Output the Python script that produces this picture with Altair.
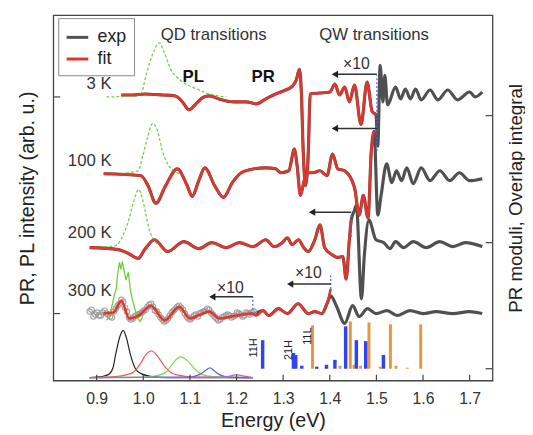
import altair as alt
import pandas as pd

FONT = "Liberation Sans"

# ---------------- data (energies in eV, signals in arb. u. relative to each baseline) ----------------
BASE_3K, BASE_100K, BASE_200K, BASE_300K = 288, 210, 135, 68
BASE_COMP = 3
BASE_BARS = 12

E_3K = [0.953, 0.978, 1.003, 1.041, 1.069, 1.084, 1.098, 1.115, 1.130, 1.143,
        1.162, 1.193, 1.221, 1.242, 1.263, 1.284, 1.305, 1.320, 1.328, 1.335,
        1.339, 1.343, 1.348, 1.354, 1.358, 1.379, 1.400, 1.411, 1.421, 1.432,
        1.442, 1.453, 1.467, 1.480, 1.491, 1.499, 1.503, 1.508, 1.514, 1.518,
        1.524, 1.541, 1.552, 1.562, 1.573, 1.584, 1.596, 1.615, 1.632, 1.653,
        1.674, 1.700, 1.712, 1.727]
S_3K = [2, 2, 3, 2, 1, -5, -13, -6, 0, 1,
        -2, -5, -5, -7, -2, 3, 7, 11, 17, 28,
        5, -55, -90, -55, 3, 4, 5, 13, 2, 10,
        -5, 12, -28, 15, -15, -18, -50, 32, -5, 22,
        -8, 10, -2, 8, -2, 8, -3, 7, -3, 7,
        -3, 5, 0, 5]
FIT_END_3K = 1.499

E_100K = [0.915, 0.995, 1.010, 1.027, 1.048, 1.073, 1.094, 1.105, 1.119, 1.132,
          1.153, 1.172, 1.191, 1.210, 1.238, 1.263, 1.284, 1.295, 1.312, 1.324,
          1.330, 1.337, 1.345, 1.354, 1.364, 1.379, 1.394, 1.406, 1.417, 1.432,
          1.453, 1.463, 1.472, 1.482, 1.489, 1.495, 1.503, 1.510, 1.522, 1.533,
          1.543, 1.554, 1.565, 1.579, 1.596, 1.615, 1.636, 1.657, 1.678, 1.700,
          1.727]
S_100K = [0, -2, -12, -30, -12, 5, -12, -23, -7, 6,
          -12, -24, -9, 1, 5, 6, 5, 1, 3, 25,
          8, -22, -7, 1, 1, 3, -2, 20, 5, 3,
          -14, -42, -22, -45, 23, 43, -42, -22, 10, -9,
          3, -7, 6, -10, 6, -7, 3, -7, 1, -7,
          -5]
FIT_END_100K = 1.495

E_200K = [0.885, 0.946, 0.968, 0.989, 1.003, 1.024, 1.052, 1.087, 1.119, 1.147,
          1.178, 1.206, 1.235, 1.263, 1.280, 1.298, 1.309, 1.319, 1.333, 1.344,
          1.354, 1.368, 1.379, 1.389, 1.404, 1.417, 1.428, 1.435, 1.442, 1.446,
          1.453, 1.457, 1.468, 1.474, 1.484, 1.499, 1.516, 1.529, 1.541, 1.558,
          1.579, 1.607, 1.636, 1.664, 1.691, 1.727]
S_200K = [0, -2, -6, -11, -2, 8, -4, 6, -1, 5,
          0, 5, 1, 8, 1, 5, 10, 3, 8, 0,
          -4, 8, 23, 0, -7, -10, -9, -32, 8, 28,
          38, 43, -52, -9, 28, 8, 5, -1, 6, 0,
          6, 0, 6, 1, 5, 1]
FIT_END_200K = 1.446

E_300K_FIT = [0.915, 0.936, 0.953, 0.970, 0.993, 1.016, 1.046, 1.077, 1.100, 1.122,
              1.141, 1.164, 1.200, 1.233, 1.242, 1.257, 1.269, 1.290, 1.309, 1.332,
              1.354, 1.368, 1.383, 1.394, 1.402]
S_300K_FIT = [0, 1, 13, -5, -1, 8, -7, 7, -5, -1,
              2, -5, -2, 0, -2, 3, -2, 5, 0, 10,
              0, 2, 0, 10, 25]

E_300K_EXP = [1.237, 1.257, 1.269, 1.290, 1.309, 1.332, 1.354, 1.368, 1.383, 1.394,
              1.402, 1.414, 1.432, 1.449, 1.463, 1.481, 1.499, 1.523, 1.544, 1.572,
              1.600, 1.628, 1.664, 1.699, 1.727]
S_300K_EXP = [-1, 3, -2, 5, 0, 10, 0, 2, 0, 10,
              18, 8, -10, 8, -3, 5, 0, 3, -2, 3,
              0, 2, 0, 2, 0]

# noisy 300 K data shown as open circles
E_300K_PTS_A = [0.885, 0.893, 0.901, 0.909, 0.917, 0.925, 0.933, 0.941, 0.949, 0.957,
                0.965, 0.973, 0.981, 0.989, 0.997, 1.005, 1.013, 1.021, 1.029, 1.037,
                1.045, 1.053, 1.061, 1.069, 1.077, 1.085, 1.093, 1.101, 1.109, 1.117,
                1.125, 1.133, 1.141, 1.149, 1.157, 1.165, 1.173, 1.181, 1.189, 1.197,
                1.205, 1.213, 1.221, 1.229, 1.237]
S_300K_PTS_A = [2, -3, 1, -2, 3, -1, -4, 5, 10, 12,
                2, -6, -3, -1, 1, 4, 9, 7, 2, -4,
                -8, -5, 1, 5, 8, 4, -3, -6, -2, -3,
                1, 3, 4, -1, -5, -6, -3, -1, -4, -2,
                0, -3, 1, -1, 2]
E_300K_PTS_B = [0.889, 0.897, 0.905, 0.913, 0.921, 0.929, 0.937, 0.945, 0.953, 0.961,
                0.969, 0.977, 0.985, 0.993, 1.001, 1.009, 1.017, 1.025, 1.033, 1.041,
                1.049, 1.057, 1.065, 1.073, 1.081, 1.089, 1.097, 1.105, 1.113, 1.121,
                1.129, 1.137, 1.145, 1.153, 1.161, 1.169, 1.177, 1.185, 1.193, 1.201,
                1.209, 1.217, 1.225, 1.233]
S_300K_PTS_B = [4, -1, -2, 1, 0, -3, 2, 8, 14, 6,
                -4, -5, -2, 0, 3, 7, 10, 3, -1, -6,
                -7, -2, 3, 7, 6, 0, -5, -4, -1, 0,
                2, 5, 1, -3, -7, -4, -2, -2, -3, 1,
                -1, -2, 0, 1]

# PL spectra
E_PL_3K = [0.921, 0.978, 0.995, 1.005, 1.014, 1.024, 1.034, 1.045, 1.059, 1.077, 1.115, 1.150, 1.178]
S_PL_3K = [0, 1, 3, 20, 35, 48, 55, 45, 28, 18, 8, 2, 0]
E_PL_100K = [0.921, 0.989, 0.999, 1.008, 1.020, 1.031, 1.041, 1.052, 1.067, 1.088]
S_PL_100K = [-1, 3, 18, 35, 51, 43, 23, 10, 3, -2]
E_PL_200K = [0.885, 0.940, 0.957, 0.970, 0.980, 0.990, 0.999, 1.005, 1.013, 1.020, 1.031]
S_PL_200K = [0, 2, 13, 30, 48, 59, 48, 35, 18, 10, 3]
E_PL_300K = [0.921, 0.927, 0.934, 0.938, 0.942, 0.945, 0.949, 0.952, 0.955, 0.959,
             0.963, 0.968, 0.972, 0.976, 0.981, 0.986, 0.993, 0.999]
S_PL_300K = [-7, -3, 10, 19, 25, 40, 52, 45, 53, 43,
             34, 42, 25, 15, 7, -3, -8, -3]

# fitted line-shape components (bottom)
E_C_BLACK = [0.885, 0.910, 0.925, 0.935, 0.941, 0.950, 0.957, 0.964, 0.972, 0.982, 0.995, 1.020, 1.050, 1.235]
C_BLACK = [0, 1, 3, 10, 24, 42, 48, 40, 24, 10, 4, 1, 0, 0]
E_C_RED = [0.885, 0.940, 0.965, 0.980, 0.995, 1.005, 1.018, 1.030, 1.045, 1.060, 1.080, 1.110, 1.235]
C_RED = [0, 1, 3, 6, 15, 23, 27, 22, 12, 5, 2, 0.5, 0]
E_C_GREEN = [0.885, 1.000, 1.030, 1.050, 1.066, 1.080, 1.095, 1.110, 1.126, 1.150, 1.235]
C_GREEN = [0, 0.5, 2, 6, 16, 21, 17, 9, 3, 1, 0]
E_C_BLUE = [0.885, 1.100, 1.120, 1.133, 1.143, 1.152, 1.163, 1.185, 1.235]
C_BLUE = [0, 0.5, 3, 7, 10, 7, 3, 0.5, 0]
E_C_PURPLE = [0.885, 1.170, 1.190, 1.200, 1.210, 1.230, 1.235]
C_PURPLE = [0, 0.5, 2, 3, 2, 0.5, 0]

# overlap integrals (bars)
E_BLUE_BARS = [1.256, 1.322, 1.327, 1.340, 1.372, 1.393, 1.411, 1.434, 1.457, 1.477, 1.515]
H_BLUE_BARS = [29, 16, 14, 3, 2, 4, 9, 43, 29, 28, 14]
E_ORANGE_BARS = [1.363, 1.444, 1.484, 1.530, 1.595, 1.372, 1.392, 1.422, 1.452, 1.466, 1.508, 1.542, 1.566]
H_ORANGE_BARS = [44, 48, 47, 45, 45, 2, 2, 3, 4, 3, 2, 3, 1]

# x10 markers: arrow y, start energy, end energy
ARROW_Y = [311, 256, 171, 98, 85]
ARROW_FROM = [1.501, 1.501, 1.446, 1.402, 1.235]
ARROW_TO = [1.411, 1.411, 1.362, 1.315, 1.148]
DOT_E = [1.501, 1.446, 1.402, 1.235]
DOT_LO = [233, 146, 93, 68]
DOT_HI = [310, 170, 108, 85]
X10_E = [1.457, 1.187, 1.354]
X10_Y = [321, 94, 109]

TEMP_LABELS = ["3 K", "100 K", "200 K", "300 K"]
TEMP_LABEL_Y = [301, 223, 150, 91]
TEMP_LABEL_E = 0.932

HEAD_TEXT = ["QD transitions", "QW transitions"]
HEAD_E = [1.151, 1.495]
HEAD_Y = [351, 351]
BOLD_TEXT = ["PL", "PR"]
BOLD_E = [1.107, 1.257]
BOLD_Y = [308, 308]
BAR_TEXT = ["11H", "21H", "11L"]
BAR_TEXT_E = [1.238, 1.312, 1.354]
BAR_TEXT_Y = [33, 31, 45]

X_TICKS = [0.9, 1.0, 1.1, 1.2, 1.3, 1.4, 1.5, 1.6, 1.7]
LEFT_TICKS = [288, 68]
RIGHT_TICKS = [269, 140, 12]

# ---------------- tables ----------------
def rows(es, ss, base, trace, series, e_max=None):
    out = []
    for e, s in zip(es, ss):
        if e_max is None or e <= e_max:
            out.append({"E": e, "y": base + s, "trace": trace, "series": series})
    return out

df_exp = pd.DataFrame(
    rows(E_3K, S_3K, BASE_3K, "3K", "exp")
    + rows(E_100K, S_100K, BASE_100K, "100K", "exp")
    + rows(E_200K, S_200K, BASE_200K, "200K", "exp")
    + rows(E_300K_EXP, S_300K_EXP, BASE_300K, "300K", "exp"))
df_fit = pd.DataFrame(
    rows(E_3K, S_3K, BASE_3K, "3K", "fit", FIT_END_3K)
    + rows(E_100K, S_100K, BASE_100K, "100K", "fit", FIT_END_100K)
    + rows(E_200K, S_200K, BASE_200K, "200K", "fit", FIT_END_200K)
    + rows(E_300K_FIT, S_300K_FIT, BASE_300K, "300K", "fit"))
df_pts = pd.DataFrame(
    rows(E_300K_PTS_A, S_300K_PTS_A, BASE_300K, "300K", "exp")
    + rows(E_300K_PTS_B, S_300K_PTS_B, BASE_300K, "300K", "exp"))
df_pl = pd.DataFrame(
    rows(E_PL_3K, S_PL_3K, BASE_3K, "3K", "pl")
    + rows(E_PL_100K, S_PL_100K, BASE_100K, "100K", "pl")
    + rows(E_PL_200K, S_PL_200K, BASE_200K, "200K", "pl"))
df_pl300 = pd.DataFrame(rows(E_PL_300K, S_PL_300K, BASE_300K, "300K", "pl"))

XS = alt.Scale(domain=[0.807, 1.749], nice=False, zero=False)
YS = alt.Scale(domain=[0, 371], nice=False, zero=False)
COL = alt.Scale(domain=["exp", "fit"], range=["#505050", "#e3352b"])
LEG = alt.Legend(orient="none", legendX=5, legendY=3, title=None)

def X(field="E:Q", axis=None):
    return alt.X(field, scale=XS, axis=axis)

def Y(field="y:Q", axis=None):
    return alt.Y(field, scale=YS, axis=axis)

x_axis = alt.Axis(values=X_TICKS, format=".1f", ticks=False, domain=False, grid=False,
                  labelFontSize=16, labelColor="#333", labelPadding=10, labelFont=FONT,
                  title="Energy (eV)", titleFontSize=20, titleFont=FONT, titleColor="#222",
                  titleFontWeight="normal", titlePadding=5)
left_axis = alt.Axis(labels=False, ticks=False, domain=False, grid=False,
                     title="PR, PL intensity (arb. u.)", titleFontSize=20, titleFont=FONT,
                     titleColor="#222", titleFontWeight="normal", titlePadding=16)
right_axis = alt.Axis(orient="right", labels=False, ticks=False, domain=False, grid=False,
                      title="PR moduli,  Overlap integral", titleFontSize=19, titleFont=FONT,
                      titleColor="#222", titleFontWeight="normal", titleAngle=270,
                      titleBaseline="top", titlePadding=14)

layers = []

layers.append(alt.Chart(df_exp).mark_line(strokeWidth=3.2, interpolate="monotone").encode(
    x=X(axis=x_axis), y=Y(axis=left_axis),
    color=alt.Color("series:N", scale=COL, legend=LEG), detail="trace:N"))

layers.append(alt.Chart(df_pts).mark_point(shape="circle", filled=False, size=30,
                                           color="#9a9a9a", strokeWidth=1.1, opacity=0.9).encode(
    x=X(), y=Y()))

layers.append(alt.Chart(df_pl).mark_line(strokeDash=[3, 2], color="#78cc48", strokeWidth=1.3,
                                         interpolate="monotone").encode(
    x=X(), y=Y(), detail="trace:N"))
layers.append(alt.Chart(df_pl300).mark_line(color="#6fd13a", strokeWidth=1.3).encode(x=X(), y=Y()))

layers.append(alt.Chart(df_fit).mark_line(strokeWidth=2.6, interpolate="monotone").encode(
    x=X(), y=Y(), color=alt.Color("series:N", scale=COL, legend=LEG), detail="trace:N"))

for es, cs, col in [(E_C_BLACK, C_BLACK, "#222222"), (E_C_RED, C_RED, "#ee5a4a"),
                    (E_C_GREEN, C_GREEN, "#86d456"), (E_C_BLUE, C_BLUE, "#4d62e8"),
                    (E_C_PURPLE, C_PURPLE, "#b763d6")]:
    dfc = pd.DataFrame({"E": es, "y": [BASE_COMP + c for c in cs]})
    layers.append(alt.Chart(dfc).mark_line(color=col, strokeWidth=1.2, interpolate="monotone").encode(
        x=X(), y=Y()))

df_blue = pd.DataFrame({"E": E_BLUE_BARS, "y0": [BASE_BARS] * len(E_BLUE_BARS),
                        "y1": [BASE_BARS + h for h in H_BLUE_BARS]})
df_orange = pd.DataFrame({"E": E_ORANGE_BARS, "y0": [BASE_BARS] * len(E_ORANGE_BARS),
                          "y1": [BASE_BARS + h for h in H_ORANGE_BARS]})
layers.append(alt.Chart(df_orange).mark_rule(color="#e8953c", strokeWidth=3).encode(
    x=X(), y=alt.Y("y0:Q", scale=YS, axis=right_axis), y2="y1:Q"))
layers.append(alt.Chart(df_blue).mark_rule(color="#2f44ec", strokeWidth=3.5).encode(
    x=X(), y=Y("y0:Q"), y2="y1:Q"))

df_dot = pd.DataFrame({"E": DOT_E, "lo": DOT_LO, "hi": DOT_HI})
layers.append(alt.Chart(df_dot).mark_rule(color="#4a5ef0", strokeDash=[2, 2], strokeWidth=1.2).encode(
    x=X(), y=Y("lo:Q"), y2="hi:Q"))

df_arr = pd.DataFrame({"y": ARROW_Y, "E0": ARROW_FROM, "E1": ARROW_TO})
layers.append(alt.Chart(df_arr).mark_rule(color="#333", strokeWidth=1.5).encode(
    x=X("E0:Q"), x2="E1:Q", y=Y()))
layers.append(alt.Chart(df_arr).mark_point(shape="triangle-left", filled=True, size=55,
                                           color="#222", opacity=1).encode(x=X("E1:Q"), y=Y()))

df_x10 = pd.DataFrame({"E": X10_E, "y": X10_Y, "t": ["×10"] * len(X10_E)})
layers.append(alt.Chart(df_x10).mark_text(font=FONT, fontSize=16, color="#333", align="center",
                                          baseline="middle").encode(x=X(), y=Y(), text="t:N"))

df_temp = pd.DataFrame({"E": [TEMP_LABEL_E] * 4, "y": TEMP_LABEL_Y, "t": TEMP_LABELS})
layers.append(alt.Chart(df_temp).mark_text(font=FONT, fontSize=17, color="#333", align="right",
                                           baseline="middle").encode(x=X(), y=Y(), text="t:N"))

df_head = pd.DataFrame({"E": HEAD_E, "y": HEAD_Y, "t": HEAD_TEXT})
layers.append(alt.Chart(df_head).mark_text(font=FONT, fontSize=17, color="#333", align="center",
                                           baseline="middle").encode(x=X(), y=Y(), text="t:N"))

df_bold = pd.DataFrame({"E": BOLD_E, "y": BOLD_Y, "t": BOLD_TEXT})
layers.append(alt.Chart(df_bold).mark_text(font=FONT, fontSize=17, fontWeight="bold", color="#111",
                                           align="center", baseline="middle").encode(
    x=X(), y=Y(), text="t:N"))

df_bt = pd.DataFrame({"E": BAR_TEXT_E, "y": BAR_TEXT_Y, "t": BAR_TEXT})
layers.append(alt.Chart(df_bt).mark_text(font=FONT, fontSize=11, color="#222", angle=270,
                                         align="center", baseline="middle").encode(
    x=X(), y=Y(), text="t:N"))

# inward ticks
layers.append(alt.Chart(pd.DataFrame({"E": X_TICKS})).mark_rule(color="#444", strokeWidth=1.2).encode(
    x=X(), y=alt.value(365), y2=alt.value(371)))
layers.append(alt.Chart(pd.DataFrame({"y": LEFT_TICKS})).mark_rule(color="#444", strokeWidth=1.2).encode(
    y=Y(), x=alt.value(0), x2=alt.value(7)))
layers.append(alt.Chart(pd.DataFrame({"y": RIGHT_TICKS})).mark_rule(color="#444", strokeWidth=1.2).encode(
    y=Y(), x=alt.value(439), x2=alt.value(446)))

chart = alt.layer(*layers).resolve_axis(x="independent", y="independent").properties(
    width=446, height=371,
    autosize=alt.AutoSizeParams(type="none"),
    padding={"left": 46, "top": 4, "right": 33, "bottom": 52},
).configure_view(stroke="#444", strokeWidth=1.3).configure_legend(
    padding=7, strokeColor="#888", fillColor="white", symbolType="stroke", symbolSize=484,
    symbolStrokeWidth=3, labelFontSize=18, labelFont=FONT, labelColor="#222",
    rowPadding=0, labelOffset=8, cornerRadius=0)

chart.save("out.html", embed_options={"renderer": "svg", "actions": False})
